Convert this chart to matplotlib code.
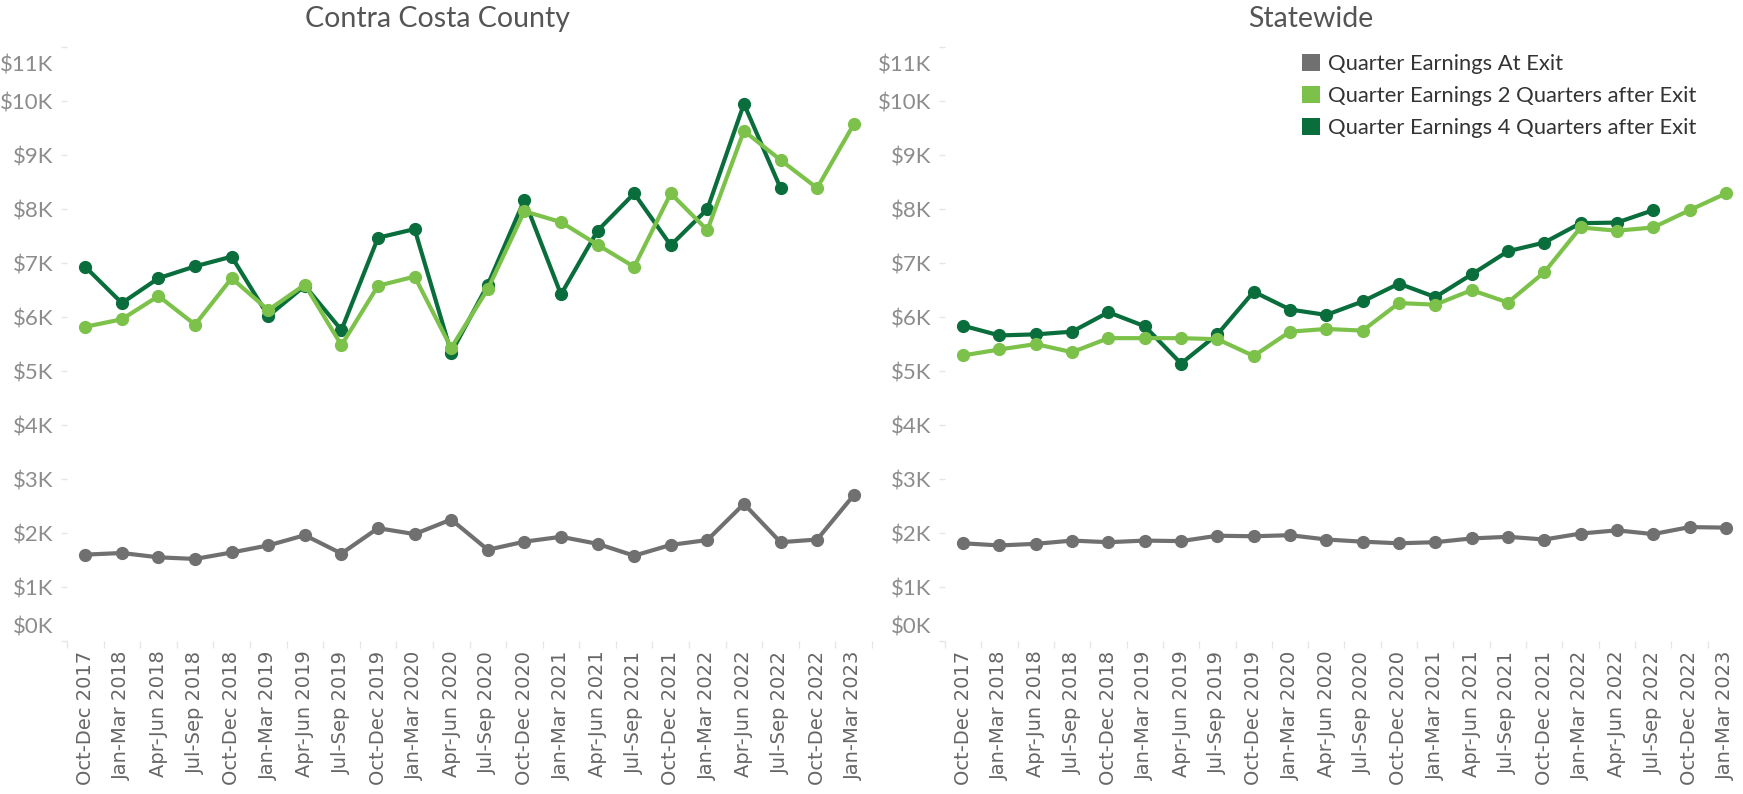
import matplotlib
matplotlib.use("Agg")
import matplotlib.pyplot as plt
import matplotlib.transforms as mtransforms
from matplotlib.ticker import FuncFormatter, MultipleLocator
from matplotlib.patches import Patch
import numpy as np

quarters = ["Oct-Dec 2017", "Jan-Mar 2018", "Apr-Jun 2018", "Jul-Sep 2018", "Oct-Dec 2018",
            "Jan-Mar 2019", "Apr-Jun 2019", "Jul-Sep 2019", "Oct-Dec 2019", "Jan-Mar 2020",
            "Apr-Jun 2020", "Jul-Sep 2020", "Oct-Dec 2020", "Jan-Mar 2021", "Apr-Jun 2021",
            "Jul-Sep 2021", "Oct-Dec 2021", "Jan-Mar 2022", "Apr-Jun 2022", "Jul-Sep 2022",
            "Oct-Dec 2022", "Jan-Mar 2023"]

# Contra Costa County
cc_at_exit = [1600, 1630, 1550, 1520, 1640, 1770, 1960, 1620, 2090, 1980, 2250,
              1690, 1840, 1930, 1800, 1580, 1780, 1870, 2540, 1830, 1880, 2700]
cc_2q = [5820, 5960, 6390, 5860, 6720, 6130, 6600, 5480, 6580, 6750, 5430,
         6520, 7960, 7760, 7340, 6930, 8290, 7610, 9450, 8910, 8390, 9570]
cc_4q = [6930, 6260, 6720, 6940, 7120, 6020, 6580, 5760, 7470, 7630, 5340,
         6600, 8170, 6420, 7600, 8290, 7330, 8000, 9950, 8390, None, None]

# Statewide
sw_at_exit = [1810, 1770, 1800, 1860, 1830, 1860, 1850, 1950, 1940, 1960, 1880,
              1840, 1810, 1830, 1900, 1930, 1880, 1990, 2050, 1980, 2110, 2100]
sw_2q = [5290, 5400, 5500, 5350, 5610, 5610, 5610, 5590, 5280, 5730, 5780,
         5750, 6260, 6230, 6500, 6270, 6830, 7660, 7600, 7660, 7980, 8290]
sw_4q = [5840, 5660, 5680, 5730, 6090, 5830, 5140, 5680, 6470, 6140, 6040,
         6290, 6620, 6370, 6790, 7220, 7380, 7740, 7750, 7980, None, None]

series_names = ["Quarter Earnings At Exit",
                "Quarter Earnings 2 Quarters after Exit",
                "Quarter Earnings 4 Quarters after Exit"]
colors = ["#707070", "#7cc24a", "#0a6e3c"]

W, H = 1743, 794
fig = plt.figure(figsize=(W / 100, H / 100), dpi=100)

title_font = "Lato"
axis_top, axis_bot = 45, 641


def mk_axes(x0, x1):
    return fig.add_axes([x0 / W, (H - axis_bot) / H, (x1 - x0) / W, (axis_bot - axis_top) / H])


def draw(ax, exitv, q2, q4, title, title_x):
    x = np.arange(len(quarters))
    def arr(v):
        return np.array([np.nan if a is None else a for a in v], dtype=float)
    ax.plot(x, arr(exitv), color=colors[0], lw=3, marker="o", ms=8.5, zorder=3)
    ax.plot(x, arr(q4), color=colors[2], lw=3, marker="o", ms=8.5, zorder=4)
    ax.plot(x, arr(q2), color=colors[1], lw=3, marker="o", ms=8.5, zorder=5)
    ax.set_xlim(-0.5, len(quarters) - 0.5)
    ax.set_ylim(0, 11040)
    ax.set_xticks(x)
    ax.set_xticklabels(quarters, rotation=90, fontsize=14, color="#666666",
                       family="DejaVu Sans", va="top", ha="center")
    ax.set_xticks(np.arange(-0.5, len(quarters)), minor=True)
    ax.tick_params(axis="x", which="major", length=0, pad=7)
    ax.tick_params(axis="x", which="minor", length=5, color="#e6e6e6", width=1)
    ax.yaxis.set_major_locator(MultipleLocator(1000))
    ax.yaxis.set_major_formatter(FuncFormatter(lambda v, p: f"${int(round(v / 1000))}K"))
    ax.tick_params(axis="y", length=4, color="#e6e6e6", width=1, pad=6,
                   labelsize=16, labelcolor="#8c8c8c")
    for lab in ax.get_yticklabels():
        lab.set_family(title_font)
    for s in ax.spines.values():
        s.set_visible(False)
    fig.canvas.draw()
    ticks = ax.get_yticks()
    for t, lab in zip(ticks, ax.get_yticklabels()):
        if abs(t) < 1:
            lab.set_transform(lab.get_transform() + mtransforms.ScaledTranslation(0, 16 / 100, fig.dpi_scale_trans))
        elif abs(t - 11000) < 1:
            lab.set_transform(lab.get_transform() + mtransforms.ScaledTranslation(0, -16 / 100, fig.dpi_scale_trans))
    fig.text(title_x / W, 1 - 19 / H, title, ha="center", va="center",
             fontsize=20.5, color="#555555", family=title_font)


ax1 = mk_axes(67, 872)
ax2 = mk_axes(945, 1744)
draw(ax1, cc_at_exit, cc_2q, cc_4q, "Contra Costa County", 437)
draw(ax2, sw_at_exit, sw_2q, sw_4q, "Statewide", 1311)

handles = [Patch(facecolor=c, edgecolor="none") for c in colors]
leg = fig.legend(handles, series_names, loc="upper left",
                 bbox_to_anchor=(1302 / W, 1 - 54 / H), frameon=False,
                 prop={"family": title_font, "size": 15.8}, handlelength=0.8,
                 handleheight=0.8, handletextpad=0.4, labelspacing=0.55,
                 borderpad=0, borderaxespad=0)
for t in leg.get_texts():
    t.set_color("#333333")

fig.savefig("out.png", dpi=100)
